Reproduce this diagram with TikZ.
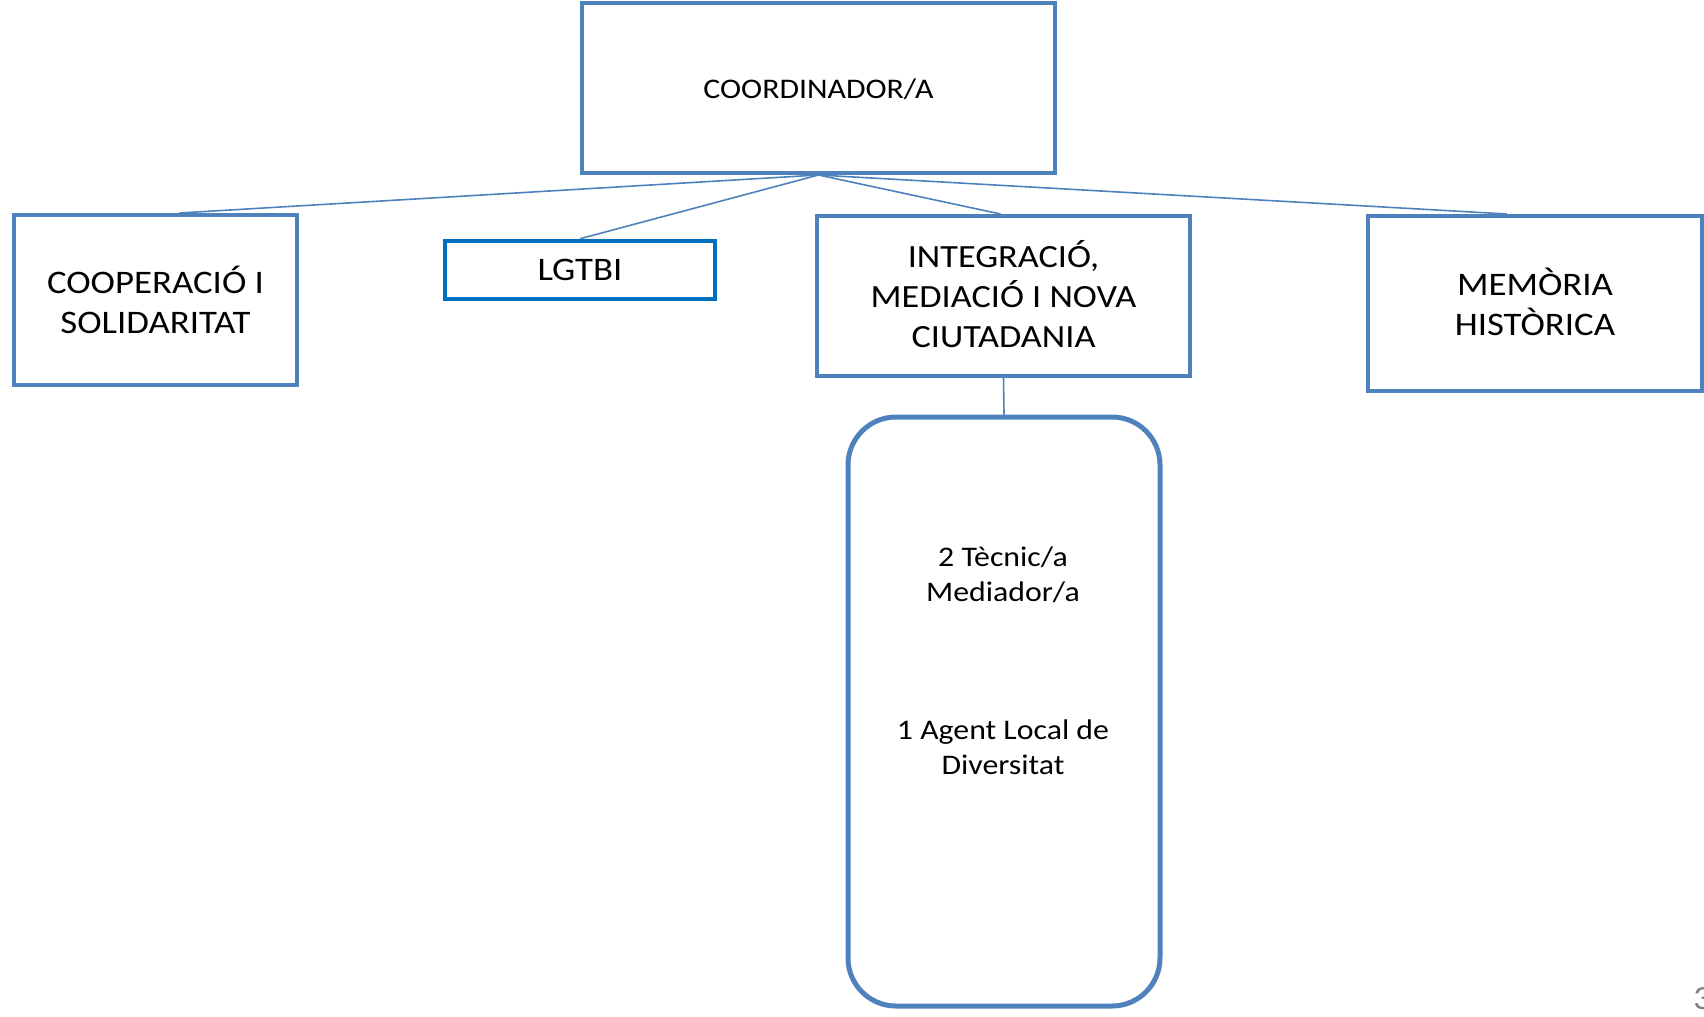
\documentclass[tikz,border=0pt]{standalone}
\usepackage{fontspec}
\setmainfont{Carlito}[FakeStretch=1.12]
\begin{document}
\begin{tikzpicture}[x=1bp,y=-1bp,
  box/.style={draw=boxblue,line width=4bp,rectangle,inner sep=0pt,align=center,text=black},
  conn/.style={draw=boxblue,line width=1.6bp}]
\definecolor{boxblue}{HTML}{4F81BD}
\definecolor{lgblue}{HTML}{0070C0}
\useasboundingbox (0,0) rectangle (1704,1016);
\node[box,minimum width=473bp,minimum height=170bp] (coord) at (818.5,88) {};
\node[font=\fontsize{28.5}{35}\selectfont] (coordt) at (coord.center) [yshift=-1bp] {COORDINADOR/A};
\node[box,minimum width=283bp,minimum height=170bp,font=\fontsize{33}{40}\selectfont] (coop) at (155.5,300) {COOPERACIÓ I\\SOLIDARITAT};
\node[box,draw=lgblue,line width=4.5bp,minimum width=270bp,minimum height=58bp,font=\fontsize{33}{38}\selectfont] (lgtbi) at (580,270) {LGTBI};
\node[box,minimum width=373bp,minimum height=160bp] (integ) at (1003.5,296) {};
\node[font=\fontsize{32.5}{40}\selectfont,align=center] (integt) at (1003.5,294) {INTEGRACIÓ,\\MEDIACIÓ I NOVA\\CIUTADANIA};
\node[box,minimum width=334bp,minimum height=175bp] (mem) at (1535,303.5) {};
\node[font=\fontsize{33}{40}\selectfont,align=center] (memt) at (1535,301.5) {MEMÒRIA\\HISTÒRICA};
\node[box,rounded corners=48bp,line width=5bp,minimum width=312bp,minimum height=589bp] (team) at (1004,711.5) {};
\node[font=\fontsize{28.5}{35}\selectfont,align=center] (t1) at (1003,575) {2 Tècnic/a\\Mediador/a};
\node[font=\fontsize{28.5}{35}\selectfont,align=center] (t2) at (1003,747) {1 Agent Local de\\Diversitat};
\node[font=\fontsize{34}{40}\selectfont,text=gray,anchor=west,inner sep=0pt] (pg) at (1693,999) {3};
\draw[conn] (coord.south) -- ([xshift=24bp]coop.north);
\draw[conn] (coord.south) -- (lgtbi.north);
\draw[conn] (coord.south) -- ([xshift=-3bp]integ.north);
\draw[conn] (coord.south) -- ([xshift=-28bp]mem.north);
\draw[conn] (integ.south) -- (team.north);
\end{tikzpicture}
\end{document}
